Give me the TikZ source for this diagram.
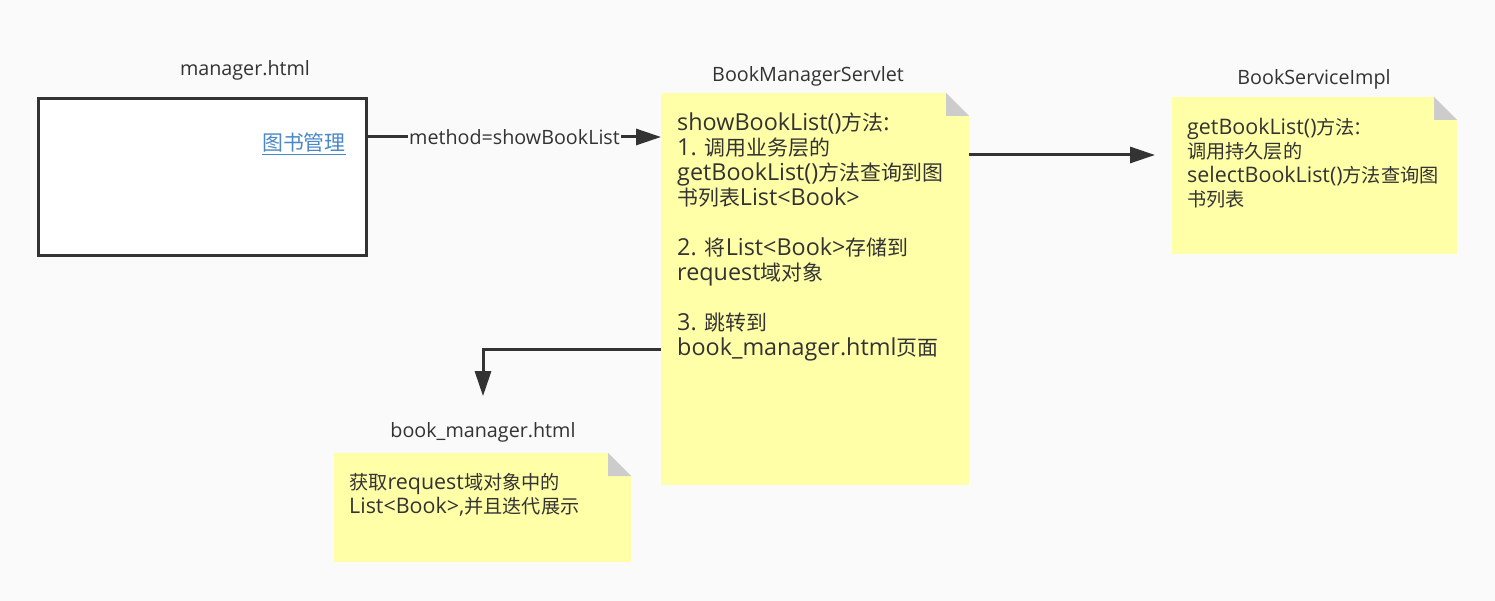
\documentclass[tikz,border=0pt]{standalone}
\usepackage{fontspec}
\setmainfont{Open Sans}[Scale=1.14]
\newfontfamily\cjkfont{Noto Sans CJK SC}[Scale=1.02]
\newcommand\zh[1]{{\cjkfont #1}}
\usetikzlibrary{arrows.meta,positioning}
\definecolor{bg}{HTML}{FAFAFA}
\definecolor{ink}{HTML}{333333}
\definecolor{notefill}{HTML}{FFFFA8}
\definecolor{fold}{HTML}{CCCCCC}
\definecolor{linkblue}{HTML}{4A88C8}

\begin{document}
\begin{tikzpicture}[x=1pt,y=-1pt,>={Triangle[length=25pt,width=16pt]},
	conn/.style={->,draw=ink,line width=3pt},
	notebox/.style={fill=notefill,inner sep=0pt,outer sep=0pt},
	notetext/.style={anchor=north west,inner sep=0pt,align=left,text=ink},
	title/.style={text=ink,font=\fontsize{17.3}{22}\selectfont}]

\def\fd{23}
\def\note#1#2#3#4#5{
\node[notebox,minimum width=#4pt,minimum height=#5pt,anchor=north west] (#1) at (#2,#3) {};
\fill[bg] ([xshift=-\fd pt]#1.north east) -- (#1.north east) -- ([yshift=-\fd pt]#1.north east) -- cycle;
\fill[fold] ([xshift=-\fd pt]#1.north east) -- ([xshift=-\fd pt,yshift=-\fd pt]#1.north east) -- ([yshift=-\fd pt]#1.north east) -- cycle;
}

\fill[bg] (0,0) rectangle (1495,601);
\useasboundingbox (0,0) rectangle (1495,601);

% manager.html
\node[title] (managerlbl) at (245,70) {manager.html};
\node[draw=ink,fill=white,line width=3pt,minimum width=328pt,minimum height=157pt,anchor=north west,inner sep=0pt] (manager) at (37,97) {};
\node[anchor=east,inner sep=0pt,text=linkblue,font=\fontsize{20.5}{24}\selectfont] (link) at (346,144) {\underline{\zh{图书管理}}};

% BookManagerServlet
\node[title] (servletlbl) at (808,76) {BookManagerServlet};
\note{servlet}{661}{93}{308}{392}
\node[notetext,font=\fontsize{20.5}{25}\selectfont] (servlettxt) at (677,113) {showBookList()\zh{方法}:\\
1. \zh{调用业务层的}\\
getBookList()\zh{方法查询到图}\\
\zh{书列表}List<Book>\\[25pt]
2. \zh{将}List<Book>\zh{存储到}\\
request\zh{域对象}\\[25pt]
3. \zh{跳转到}\\
book\_manager.html\zh{页面}};

% BookServiceImpl
\node[title] (servicelbl) at (1314,79) {BookServiceImpl};
\note{service}{1172}{97}{285}{157}
\node[notetext,font=\fontsize{18.8}{24}\selectfont] (servicetxt) at (1187,118) {getBookList()\zh{方法}:\\
\zh{调用持久层的}\\
selectBookList()\zh{方法查询图}\\
\zh{书列表}};

% book_manager.html
\node[title] (booklbl) at (483,432) {book\_manager.html};
\note{book}{334}{453}{297}{109}
\node[notetext,font=\fontsize{18.8}{24}\selectfont] (booktxt) at (349,473) {\zh{获取}request\zh{域对象中的}\\
List<Book>,\zh{并且迭代展示}};

% arrows
\draw[conn] (manager.east |- 0,137) -- (servlet.west |- 0,137)
	node[midway,fill=bg,inner sep=1pt,text=ink,font=\fontsize{17.3}{22}\selectfont] (method) {method=showBookList};
\draw[conn] (servlet.east |- 0,155) -- ([xshift=-17pt]service.west |- 0,155);
\draw[conn] (servlet.west |- 0,349) -| ([yshift=22pt]booklbl.north);

\end{tikzpicture}
\end{document}
